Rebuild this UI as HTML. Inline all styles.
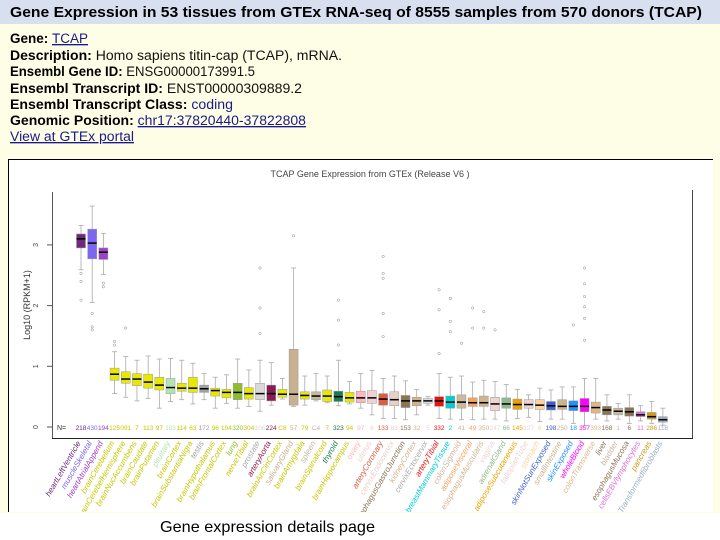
<!DOCTYPE html>
<html><head><meta charset="utf-8">
<style>
body{margin:0;width:720px;height:540px;overflow:hidden;background:#fff;font-family:"Liberation Sans",sans-serif}
svg{display:block}
.lab{font-weight:bold;fill:#000}
.val{fill:#111}
.lnk{fill:#1a1a8c;text-decoration:underline}
</style></head><body>
<svg id="page" width="720" height="540" viewBox="0 0 720 540">
  <defs><clipPath id="pc"><rect x="8" y="159" width="705" height="353"/></clipPath></defs>
  <rect x="0" y="0" width="720" height="513" fill="#fefee6"/>
  <rect x="0" y="0" width="720" height="24" fill="#d8e0ef"/>
  <text x="10" y="17" font-size="15" font-weight="bold" textLength="692" lengthAdjust="spacingAndGlyphs">Gene Expression in 53 tissues from GTEx RNA-seq of 8555 samples from 570 donors (TCAP)</text>
  <g font-size="13.5">
    <text x="10" y="43"><tspan class="lab">Gene: </tspan><tspan class="lnk">TCAP</tspan></text>
    <text x="10" y="60" textLength="332" lengthAdjust="spacingAndGlyphs"><tspan class="lab">Description: </tspan><tspan class="val">Homo sapiens titin-cap (TCAP), mRNA.</tspan></text>
    <text x="10" y="76" textLength="245" lengthAdjust="spacingAndGlyphs"><tspan class="lab">Ensembl Gene ID: </tspan><tspan class="val">ENSG00000173991.5</tspan></text>
    <text x="10" y="93" textLength="292" lengthAdjust="spacingAndGlyphs"><tspan class="lab">Ensembl Transcript ID: </tspan><tspan class="val">ENST00000309889.2</tspan></text>
    <text x="10" y="109" textLength="223" lengthAdjust="spacingAndGlyphs"><tspan class="lab">Ensembl Transcript Class: </tspan><tspan fill="#1a1a8c">coding</tspan></text>
    <text x="10" y="125" textLength="296" lengthAdjust="spacingAndGlyphs"><tspan class="lab">Genomic Position: </tspan><tspan class="lnk">chr17:37820440-37822808</tspan></text>
    <text x="10" y="141" class="lnk" textLength="124" lengthAdjust="spacingAndGlyphs">View at GTEx portal</text>
  </g>
  <rect x="8" y="159" width="705" height="353" fill="#fff"/>
  <line x1="8.5" y1="159" x2="8.5" y2="512" stroke="#000"/>
  <line x1="8" y1="159.5" x2="713" y2="159.5" stroke="#000"/>
  <text x="370" y="177" font-size="9" fill="#444" text-anchor="middle">TCAP Gene Expression from GTEx (Release V6 )</text>
  <g id="chart" clip-path="url(#pc)"></g>
  <text x="160" y="532" font-size="16" fill="#000" textLength="215" lengthAdjust="spacingAndGlyphs">Gene expression details page</text>
</svg>
<script>
const tissues=["heartLeftVentricle","muscleSkeletal","heartAtrialAppend","brainCerebellum","brainCerebelHemisphere","brainNucAccumbens","brainCaudate","brainPutamen","pituitary","brainCortex","brainSubstantiaNigra","testis","brainHypothalamus","brainFrontalCortex","lung","nerveTibial","prostate","arteryAorta","brainAnCinCortex","salivaryGland","brainAmygdala","spleen","brainSpinalcord","thyroid","brainHippocampus","ovary","uterus","arteryCoronary","cervixEndocervix","esophagusGastroJunction","kidneyCortex","cervixEctocervix","arteryTibial","breastMammaryTissue","colonSigmoid","adiposeVisceral","esophagusMuscularis","vagina","adrenalGland","adiposeSubcutaneous","fallopianTube","stomach","skinNotSunExposed","smallIntestine","skinExposed","wholeBlood","colonTransverse","liver","bladder","esophagusMucosa","cellsEBVlymphocytes","pancreas","cellsTransformedfibroblasts"];
const colors=["#6e2a7a","#7b68ee","#a040c8","#e8e800","#e8e800","#e8e800","#e8e800","#e8e800","#b4e4b4","#e8e800","#e8e800","#a0a0a0","#e8e800","#e8e800","#8fbc2f","#e8e800","#d9d9d9","#8b1a55","#e8e800","#c8b090","#e8e800","#c8b8a0","#e8e800","#1a7a50","#e8e800","#ffb6c1","#f0d0d0","#e05a40","#e8d0c8","#8b7355","#d2b48c","#dddddd","#ee1111","#00ced1","#cdb79e","#f4a460","#d2b48c","#eed5d2","#8fbc8f","#eea000","#eed5d2","#ffd39b","#3a5fcd","#cdb38b","#1e90ff","#ff00ff","#deb887","#8b7355","#cdb79e","#8b7355","#da70d6","#cd9b1d","#9ab0c0"];
const medians=[3.10,3.03,2.88,.87,.79,.79,.74,.69,.65,.64,.64,.63,.60,.57,.57,.55,.55,.55,.54,.54,.52,.51,.51,.50,.48,.48,.48,.46,.45,.43,.43,.43,.43,.41,.41,.40,.40,.38,.38,.37,.37,.36,.35,.34,.34,.34,.32,.28,.26,.25,.20,.17,.12];
const q3s=[3.18,3.26,2.95,.97,.91,.88,.87,.82,.80,.72,.82,.69,.64,.62,.72,.65,.72,.69,.62,1.28,.58,.58,.61,.59,.57,.59,.60,.55,.58,.52,.49,.47,.50,.51,.53,.48,.51,.49,.48,.46,.45,.45,.42,.45,.43,.47,.41,.34,.31,.32,.25,.24,.17];
const q1s=[2.95,2.77,2.76,.77,.72,.68,.64,.61,.55,.59,.57,.57,.51,.48,.45,.46,.45,.43,.49,.36,.46,.45,.42,.42,.41,.40,.39,.36,.35,.32,.35,.39,.34,.31,.31,.34,.34,.27,.31,.29,.31,.29,.28,.29,.27,.25,.23,.20,.20,.18,.17,.13,.08];
const whiskHi=[3.32,3.64,3.19,1.24,1.16,1.10,1.17,1.12,1.13,1.10,1.05,.88,.82,.86,1.12,.94,1.10,1.06,.80,2.62,.84,.88,.84,1.10,.75,.88,.93,.80,.84,.76,.62,.50,.88,.82,.84,.74,.77,.75,.70,.62,.53,.64,.61,.66,.66,.80,.80,.53,.39,.53,.35,.42,.31];
const whiskLo=[2.59,2.05,2.51,.55,.49,.43,.47,.31,.42,.45,.38,.45,.31,.39,.31,.34,.26,.36,.46,.34,.36,.43,.40,.35,.38,.31,.20,.14,.14,.12,.20,.36,.14,.13,.12,.12,.13,.13,.10,.14,.16,.09,.13,.13,.06,.02,.13,.10,.13,.06,.10,.06,.03];
const counts=["218","430","194","125","091","7","113","97","103","114","63","172","96","104","320","304","106","224","C8","57","79","C4","7","323","94","97","6","133","83","153","32","5","332","2","41","49","350","247","66","145","227","6","198","250","18","357","393","168","1","6","11","286","118"];
const outlierIdx=[0,0,0,1,1,1,2,2,3,3,4,16,16,16,19,23,23,23,27,27,27,27,27,32,32,32,33,33,33,35,35,36,36,37,34,44,45,45,45,45,45,45];
const outlierVal=[2.53,2.40,2.09,1.87,1.65,1.60,2.37,2.31,1.41,1.35,1.63,2.62,1.96,1.54,3.15,2.09,1.76,1.35,2.81,2.53,2.45,1.87,1.49,2.26,1.93,1.21,2.12,1.74,1.57,1.96,1.63,1.90,1.63,1.60,1.38,1.68,2.62,2.36,2.15,1.98,1.79,1.43];
const yTicks=[0,1,2,3];

const NS="http://www.w3.org/2000/svg";
const g=document.getElementById('chart');
const X0=81,DX=11.19,Y0=427,PY=60.7,BW=9;
function xs(i){return X0+i*DX;}
function ys(v){return Y0-v*PY;}
function mk(t,a,p){const e=document.createElementNS(NS,t);for(const k in a)e.setAttribute(k,a[k]);(p||g).appendChild(e);return e;}

let ax=mk('line',{x1:52.5,y1:192,x2:52.5,y2:438,stroke:'#555'});


let bx=mk('line',{x1:52,y1:438.5,x2:693,y2:438.5,stroke:'#222'});


let rx=mk('line',{x1:692.5,y1:190,x2:692.5,y2:438,stroke:'#444'});


yTicks.forEach(v=>{
  let t=mk('line',{x1:47,y1:ys(v),x2:52,y2:ys(v),stroke:'#555'});
  
  
  let l=mk('text',{x:38,y:ys(v),'font-size':7,fill:'#444','text-anchor':'middle',transform:`rotate(-90 38 ${ys(v)})`});
  l.textContent=v;
  
  
});
let yt=mk('text',{x:30,y:305,'font-size':9,fill:'#333','text-anchor':'middle',transform:'rotate(-90 30 305)'});
yt.textContent='Log10 (RPKM+1)';



let nl=mk('text',{x:57,y:430,'font-size':7,fill:'#333'});
nl.textContent='N=';



tissues.forEach((name,i)=>{
  const x=xs(i),c=colors[i];
  const w=mk('line',{x1:x,y1:ys(whiskHi[i]),x2:x,y2:ys(whiskLo[i]),stroke:'#aaa','stroke-width':0.8});
  
  
  [whiskHi[i],whiskLo[i]].forEach(v=>{
    const cap=mk('line',{x1:x-2.5,y1:ys(v),x2:x+2.5,y2:ys(v),stroke:'#aaa','stroke-width':0.8});
    
    
  });
  const b=mk('rect',{x:x-BW/2,y:ys(q3s[i]),width:BW,height:ys(q1s[i])-ys(q3s[i]),fill:c,stroke:'#999','stroke-width':0.5});
  
  
  const m=mk('line',{x1:x-BW/2,y1:ys(medians[i]),x2:x+BW/2,y2:ys(medians[i]),stroke:'#000','stroke-width':1.5});
  
  
  const n=mk('text',{x:x,y:430,'font-size':6.5,fill:c==='#e8e800'?'#c8c800':c,'text-anchor':'middle'});
  n.textContent=counts[i];
  
  
  const lb=mk('text',{x:x,y:443,'font-size':8,'font-style':'italic',fill:c==='#e8e800'?'#c8c800':(c==='#dddddd'||c==='#d9d9d9'?'#aaa':c),'text-anchor':'end',transform:`rotate(-60 ${x} 443)`});
  lb.textContent=name;
  
  
});
outlierIdx.forEach((i,k)=>{
  const o=mk('circle',{cx:xs(i),cy:ys(outlierVal[k]),r:1.2,fill:'none',stroke:'#888','stroke-width':0.5});
  
  
});
</script>
</body></html>
